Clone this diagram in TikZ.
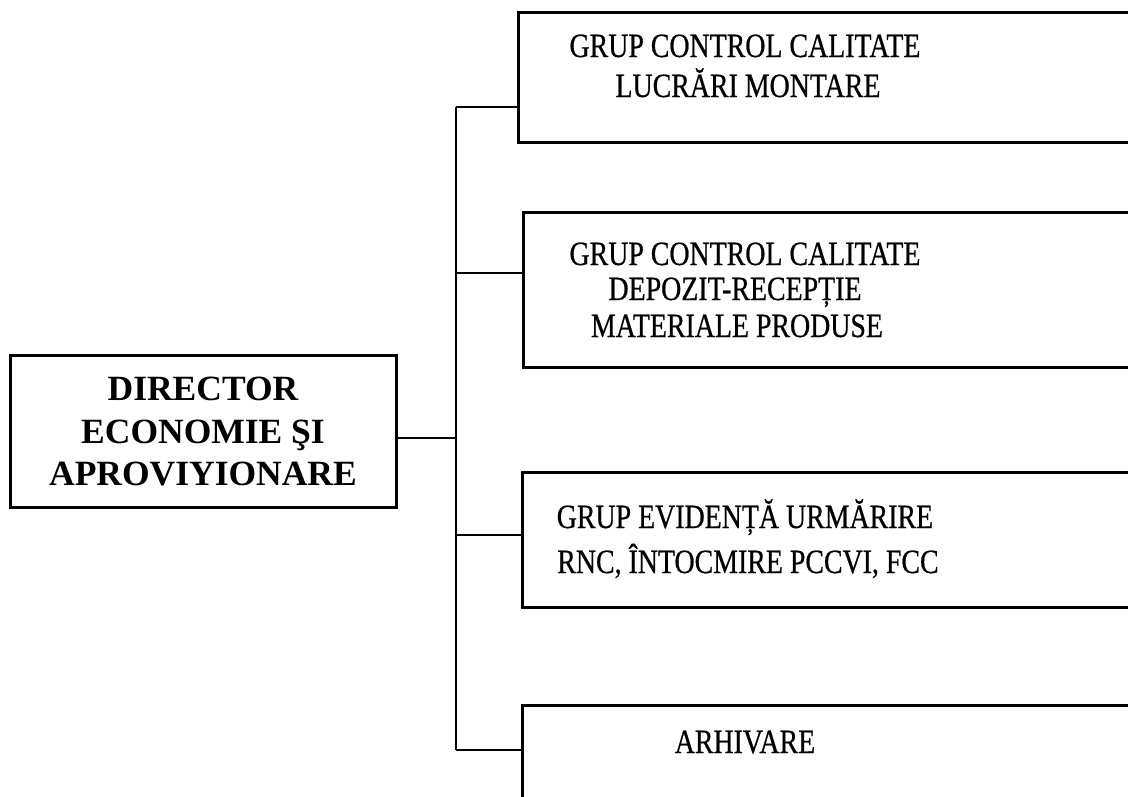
\documentclass[tikz,border=0pt]{standalone}
\usepackage{fontspec}
\setmainfont{Liberation Serif}
\newfontfamily\grpfont[FakeStretch=0.82,FakeBold=0.6]{Liberation Serif}
\begin{document}
\begin{tikzpicture}[x=1pt,y=-1pt,
  box/.style={draw, line width=3pt, inner sep=0pt},
  conn/.style={line width=2.6pt},
  lbl/.style={inner sep=0pt, anchor=base, font=\grpfont\fontsize{34}{36}\selectfont},
  dirlbl/.style={inner sep=0pt, anchor=base, font=\bfseries\fontsize{35.5}{40}\selectfont}]
\useasboundingbox (0,0) rectangle (1128,796);
\clip (0,0) rectangle (1128,796);
\fill[white] (0,0) rectangle (1128,796);
% boxes
\node[box, minimum width=386pt, minimum height=152pt] (dir) at (203,431) {};
\node[box, minimum width=622pt, minimum height=130pt] (b1) at (829,77) {};
\node[box, minimum width=617pt, minimum height=155pt] (b2) at (831.5,289.5) {};
\node[box, minimum width=618pt, minimum height=135pt] (b3) at (831,539.5) {};
\node[box, minimum width=618pt, minimum height=125pt] (b4) at (831,767.5) {};
% texts
\node[dirlbl] (d1) at (203,400) {DIRECTOR};
\node[dirlbl] (d2) at (203,443) {ECONOMIE ŞI};
\node[dirlbl] (d3) at (203,485) {APROVIYIONARE};
\node[lbl] (t1a) at (745,57) {GRUP CONTROL CALITATE};
\node[lbl] (t1b) at (748,97) {LUCRĂRI MONTARE};
\node[lbl] (t2a) at (745,265) {GRUP CONTROL CALITATE};
\node[lbl] (t2b) at (735,300) {DEPOZIT-RECEPȚIE};
\node[lbl] (t2c) at (737,337) {MATERIALE PRODUSE};
\node[lbl] (t3a) at (745,528) {GRUP EVIDENȚĂ URMĂRIRE};
\node[lbl] (t3b) at (748,573) {RNC, ÎNTOCMIRE PCCVI, FCC};
\node[lbl] (t4a) at (745,753) {ARHIVARE};
% connectors
\coordinate (j1) at (456,107);
\coordinate (j2) at (456,273);
\coordinate (jd) at (456,438);
\coordinate (j3) at (456,535);
\coordinate (j4) at (456,750);
\draw[conn] (j1) -- (j4);
\draw[conn] (jd -| dir.east) -- (jd);
\draw[conn] (j1) -- (j1 -| b1.west);
\draw[conn] (j2) -- (j2 -| b2.west);
\draw[conn] (j3) -- (j3 -| b3.west);
\draw[conn] (j4) -- (j4 -| b4.west);
\end{tikzpicture}
\end{document}
